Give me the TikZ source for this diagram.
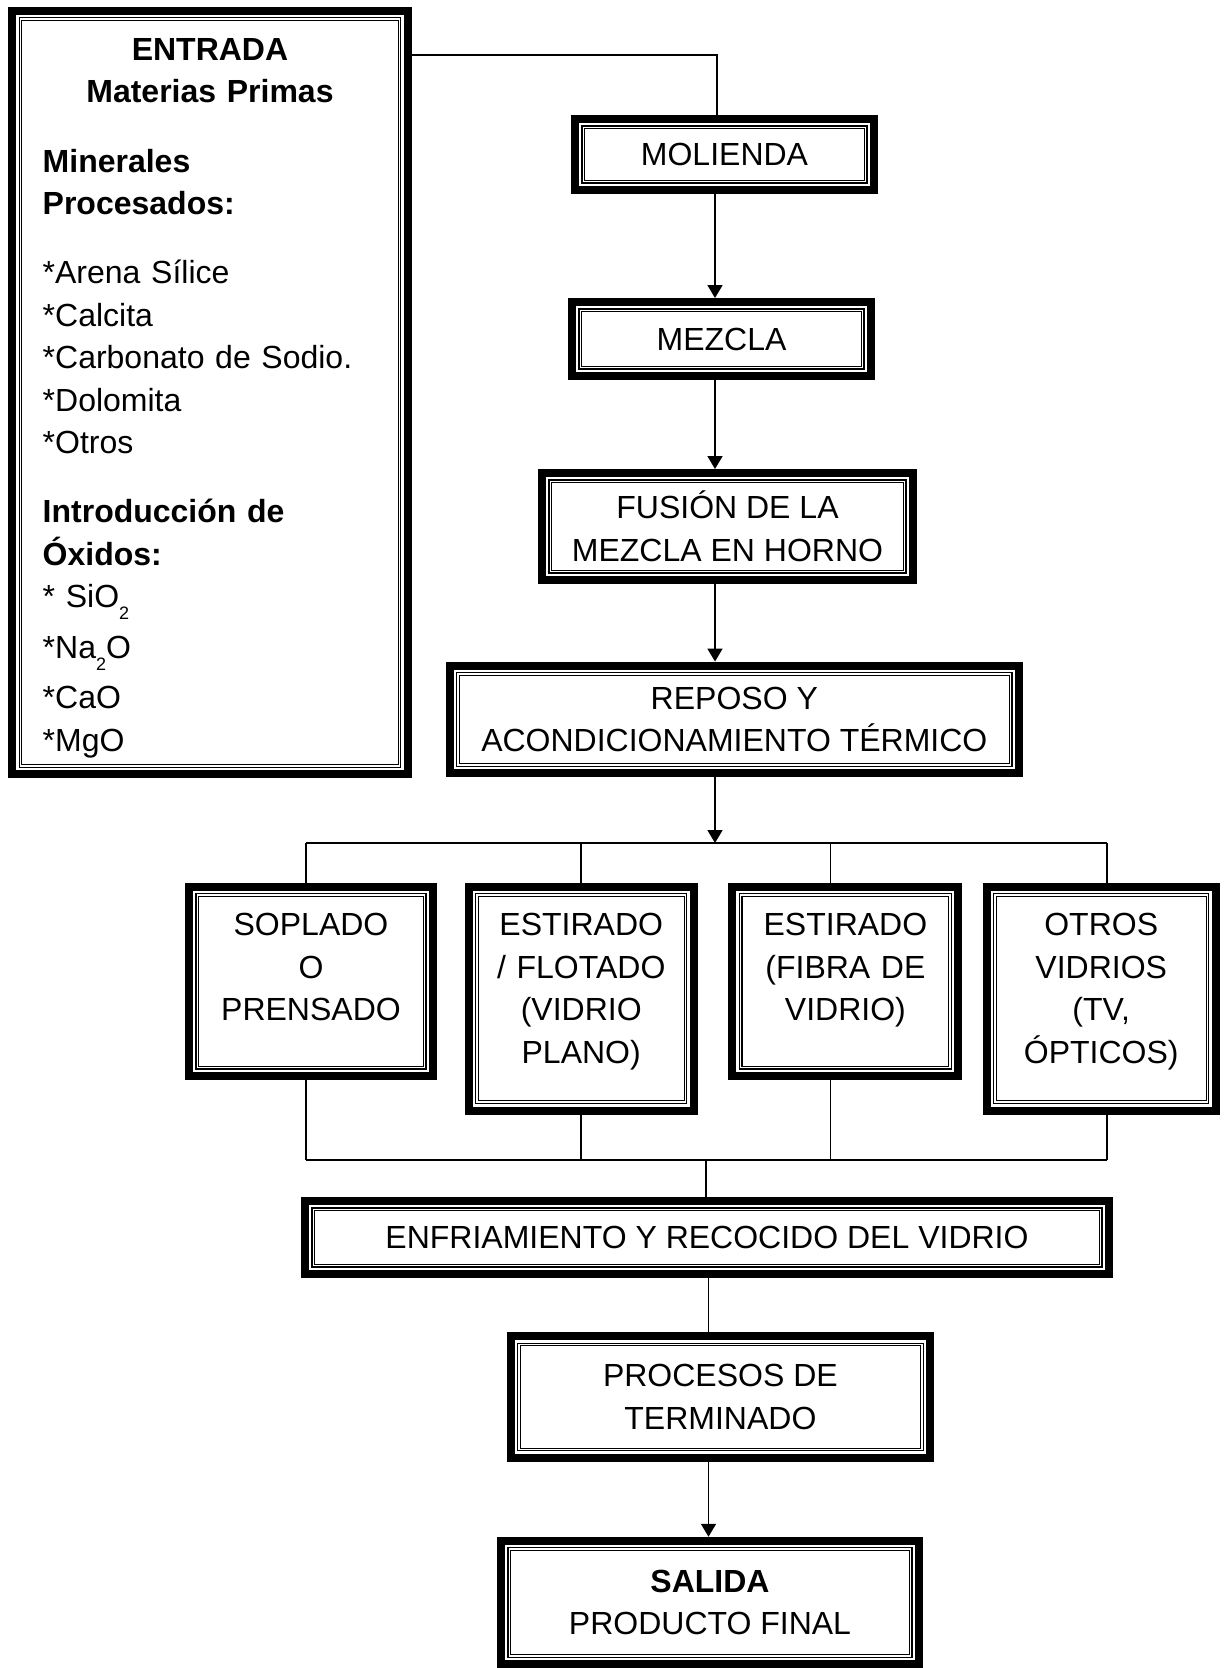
\documentclass[tikz,border=0pt]{standalone}
\usepackage{fontspec}
\setmainfont{Liberation Sans}
\usetikzlibrary{calc,arrows.meta}

\newcommand{\chemsub}[1]{\raisebox{-12pt}{\fontsize{18}{18}\selectfont #1}}

\tikzset{
  stage/.style={draw, line width=8pt, align=center, inner sep=0pt,
    font=\fontsize{32}{42.5}\selectfont},
  branch/.style={stage, anchor=north, text width=200pt, text height=48.9pt},
  wire/.style={line width=1.8pt},
  flow/.style={wire, -{Triangle[width=15pt,length=13pt]}},
  frame/.style={line width=1.1pt, double, double distance=1.5pt}
}

\begin{document}
\begin{tikzpicture}[x=1pt, y=1pt]
  \useasboundingbox (0,0) rectangle (1225,-1668);

  % input box
  \node[stage, minimum width=395.4pt, minimum height=763.3pt] (entrada) at (210,-392.4) {};
  \node[anchor=base, text width=380pt, align=center, inner sep=0pt,
    font=\fontsize{32}{42.5}\selectfont\bfseries] (entrada-title) at (210,-60.4)
    {ENTRADA\\Materias Primas};
  \node[anchor=base west, text width=360pt, align=left, inner sep=0pt,
    font=\fontsize{32}{42.5}\selectfont] (entrada-list) at (42.5,-172)
    {\textbf{Minerales}\\
     \textbf{Procesados:}\\[26.5pt]
     {*}Arena Sílice\\
     {*}Calcita\\
     {*}Carbonato de Sodio.\\
     {*}Dolomita\\
     {*}Otros\\[26.5pt]
     \textbf{Introducción de}\\
     \textbf{Óxidos:}\\
     {*} SiO\chemsub{2}\\[8pt]
     {*}Na\chemsub{2}O\\[8pt]
     {*}CaO\\
     {*}MgO};

  % main line
  \node[stage, minimum width=299pt, minimum height=71pt] (molienda) at (724.5,-154.5) {MOLIENDA};
  \node[stage, minimum width=299pt, minimum height=74pt] (mezcla) at (721.5,-339) {MEZCLA};
  \node[stage, minimum width=371pt, minimum height=107pt] (fusion) at (727.5,-526.5)
    {FUSIÓN DE LA\\MEZCLA EN HORNO};
  \node[stage, minimum width=569.4pt, minimum height=107.5pt] (reposo) at (734.3,-719.3)
    {REPOSO Y\\ACONDICIONAMIENTO TÉRMICO};

  % forming processes
  \node[branch, minimum width=244pt, text depth=140.5pt] (soplado) at (311,-882.6)
    {SOPLADO\\O\\PRENSADO};
  \node[branch, minimum width=225pt, text depth=175pt] (flotado) at (581.2,-882.6)
    {ESTIRADO\\/ FLOTADO\\(VIDRIO\\PLANO)};
  \node[branch, minimum width=226pt, text depth=140.5pt] (fibra) at (845.4,-882.6)
    {ESTIRADO\\(FIBRA DE\\VIDRIO)};
  \node[branch, minimum width=229pt, text depth=175pt] (otros) at (1101.2,-882.6)
    {OTROS\\VIDRIOS\\(TV,\\ÓPTICOS)};

  \node[stage, minimum width=804pt, minimum height=73pt] (enfriamiento) at (707,-1237.5)
    {ENFRIAMIENTO Y RECOCIDO DEL VIDRIO};
  \node[stage, minimum width=419.3pt, minimum height=121.7pt] (procesos) at (720.4,-1396.9)
    {PROCESOS DE\\TERMINADO};
  \node[stage, minimum width=418pt, minimum height=123.3pt] (salida) at (710,-1602.4)
    {\textbf{SALIDA}\\PRODUCTO FINAL};

  % inner thin frames
  \foreach \n in {entrada,molienda,mezcla,fusion,reposo,soplado,flotado,fibra,otros,enfriamiento,procesos,salida}
    \draw[frame] ($(\n.south west)+(12.3,12.3)$) rectangle ($(\n.north east)-(12.3,12.3)$);

  % connectors
  \coordinate (feed) at (717,-55);
  \coordinate (spine) at (715,0);
  \coordinate (split) at (715,-843);
  \coordinate (split-l) at (306,-843);
  \coordinate (split-r) at (1107,-843);
  \coordinate (merge) at (706,-1160);
  \coordinate (merge-l) at (306,-1160);
  \coordinate (merge-r) at (1107,-1160);
  \coordinate (drop) at (708.5,0);

  \draw[wire] (entrada.east |- feed) -- (feed) -- (molienda.north -| feed);
  \draw[flow] (molienda.south -| spine) -- (mezcla.north -| spine);
  \draw[flow] (mezcla.south -| spine) -- (fusion.north -| spine);
  \draw[flow] (fusion.south -| spine) -- (reposo.north -| spine);
  \draw[flow] (reposo.south -| split) -- (split);

  \draw[wire] (split-l) -- (split-r);
  \draw[wire] (merge-l) -- (merge-r);
  \foreach \n/\x in {soplado/306,flotado/580.6,fibra/830.5,otros/1107}{
    \draw[wire] (split -| \x,0) -- (\n.north -| \x,0);
    \draw[wire] (\n.south -| \x,0) -- (merge -| \x,0);
  }

  \draw[wire] (merge) -- (enfriamiento.north -| merge);
  \draw[wire] (enfriamiento.south -| drop) -- (procesos.north -| drop);
  \draw[flow] (procesos.south -| drop) -- (salida.north -| drop);
\end{tikzpicture}
\end{document}
